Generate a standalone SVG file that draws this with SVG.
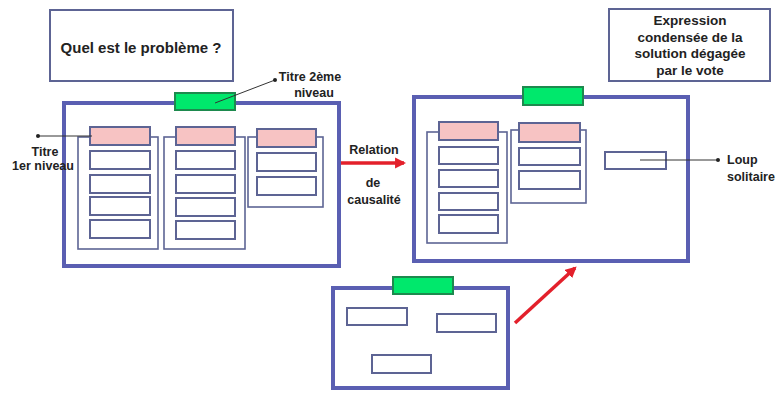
<svg xmlns="http://www.w3.org/2000/svg" width="778" height="394" viewBox="0 0 778 394">
  <defs>
    <style>
      .frame { fill: #ffffff; stroke: #5a5fb2; stroke-width: 4; }
      .note { fill: #ffffff; stroke: #5d6494; stroke-width: 2; }
      .col { fill: #ffffff; stroke: #5d6494; stroke-width: 1.6; }
      .item { fill: #ffffff; stroke: #5d6494; stroke-width: 2; }
      .head { fill: #f7c3c3; stroke: #5d6494; stroke-width: 2; }
      .tab { fill: #00e86c; stroke: #1d8a4e; stroke-width: 2; }
      .t { font-family: "Liberation Sans", Arial, sans-serif; font-weight: bold; fill: #222222; }
      .c { text-anchor: middle; }
      .lead { stroke: #333333; stroke-width: 1; fill: none; }
      .red { stroke: #e3202b; stroke-width: 3.5; fill: none; }
    </style>
    <marker id="redHead" viewBox="0 0 10 10" refX="8" refY="5" markerWidth="3.2" markerHeight="3.2" orient="auto" markerUnits="strokeWidth">
      <path d="M0,0 L10,5 L0,10 Z" fill="#e3202b"/>
    </marker>
    <marker id="dot" viewBox="0 0 4 4" refX="2" refY="2" markerWidth="4" markerHeight="4" markerUnits="userSpaceOnUse">
      <circle cx="2" cy="2" r="2" fill="#222222"/>
    </marker>
  </defs>

  <g id="question">
    <rect class="note" x="50" y="10" width="183" height="71"/>
    <text class="t c" x="141" y="53" font-size="15">Quel est le problème ?</text>
  </g>

  <g id="expression">
    <rect class="note" x="609" y="9" width="161" height="72"/>
    <text class="t c" x="690" y="25" font-size="13.5">Expression</text>
    <text class="t c" x="690" y="41.5" font-size="13.5">condensée de la</text>
    <text class="t c" x="690" y="58" font-size="13.5">solution dégagée</text>
    <text class="t c" x="690" y="75" font-size="13.5">par le vote</text>
  </g>

  <g id="frame-left">
    <rect class="frame" x="64" y="103" width="275" height="163"/>
    <rect class="tab" x="175" y="93" width="60" height="17"/>
    <g id="col-left-1">
      <rect class="col" x="78" y="137" width="80" height="112"/>
      <rect class="head" x="90" y="127" width="60" height="18"/>
      <rect class="item" x="90" y="151" width="60" height="18"/>
      <rect class="item" x="90" y="175" width="60" height="18"/>
      <rect class="item" x="90" y="197" width="60" height="18"/>
      <rect class="item" x="90" y="220" width="60" height="18"/>
    </g>
    <g id="col-left-2">
      <rect class="col" x="164" y="137" width="81" height="112"/>
      <rect class="head" x="176" y="127" width="59" height="18"/>
      <rect class="item" x="176" y="151" width="59" height="18"/>
      <rect class="item" x="176" y="175" width="59" height="18"/>
      <rect class="item" x="176" y="198" width="59" height="18"/>
      <rect class="item" x="176" y="221" width="59" height="18"/>
    </g>
    <g id="col-left-3">
      <rect class="col" x="248" y="137" width="75" height="70"/>
      <rect class="head" x="257" y="129" width="59" height="18"/>
      <rect class="item" x="257" y="153" width="59" height="18"/>
      <rect class="item" x="257" y="177" width="59" height="18"/>
    </g>
  </g>

  <g id="frame-right">
    <rect class="frame" x="414" y="97" width="274" height="164"/>
    <rect class="tab" x="523" y="87" width="60" height="18"/>
    <g id="col-right-1">
      <rect class="col" x="427" y="132" width="80" height="111"/>
      <rect class="head" x="439" y="122" width="59" height="18"/>
      <rect class="item" x="439" y="147" width="59" height="17"/>
      <rect class="item" x="439" y="170" width="59" height="17"/>
      <rect class="item" x="439" y="193" width="59" height="17"/>
      <rect class="item" x="439" y="215" width="59" height="18"/>
    </g>
    <g id="col-right-2">
      <rect class="col" x="511" y="130" width="75" height="73"/>
      <rect class="head" x="519" y="123" width="61" height="19"/>
      <rect class="item" x="519" y="148" width="61" height="17"/>
      <rect class="item" x="519" y="171" width="61" height="18"/>
    </g>
    <g id="lone-wolf">
      <rect class="item" x="605" y="152" width="61" height="17"/>
    </g>
  </g>

  <g id="frame-bottom">
    <rect class="frame" x="333" y="288" width="175" height="100"/>
    <rect class="tab" x="393" y="277" width="60" height="17"/>
    <rect class="item" x="347" y="308" width="60" height="17"/>
    <rect class="item" x="437" y="314" width="59" height="18"/>
    <rect class="item" x="372" y="355" width="59" height="18"/>
  </g>

  <g id="connectors">
    <line class="lead" x1="215" y1="103" x2="275" y2="80" marker-end="url(#dot)"/>
    <line class="lead" x1="92" y1="136" x2="38" y2="136" marker-end="url(#dot)"/>
    <line class="lead" x1="640" y1="160" x2="718" y2="160" marker-end="url(#dot)"/>
    <line class="red" x1="341" y1="163" x2="404" y2="163" marker-end="url(#redHead)"/>
    <line class="red" x1="515" y1="323" x2="575" y2="268" marker-end="url(#redHead)"/>
  </g>

  <g id="labels">
    <text class="t c" x="310" y="81" font-size="12.5">Titre 2ème</text>
    <text class="t c" x="314" y="97" font-size="12.5">niveau</text>
    <text class="t c" x="45" y="156" font-size="12.5">Titre</text>
    <text class="t c" x="43" y="170" font-size="12.5">1er niveau</text>
    <text class="t c" x="374" y="154" font-size="12.5">Relation</text>
    <text class="t c" x="373" y="187" font-size="12.5">de</text>
    <text class="t c" x="374" y="204" font-size="12.5">causalité</text>
    <text class="t" x="727" y="164" font-size="12.5">Loup</text>
    <text class="t" x="727" y="181" font-size="12.5">solitaire</text>
  </g>
</svg>
